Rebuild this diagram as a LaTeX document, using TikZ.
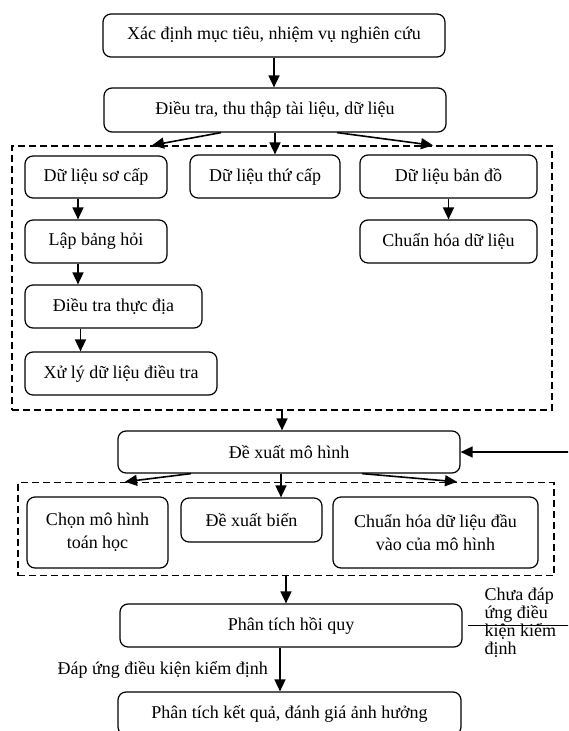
\documentclass[tikz,border=0pt]{standalone}
\usepackage{fontspec}
\setmainfont{Liberation Serif}
\usetikzlibrary{arrows.meta}

\begin{document}
\begin{tikzpicture}[x=1pt, y=-1pt, >={Triangle[length=12pt,width=11pt]}, line width=1.2pt,
    box/.style={draw, rounded corners=8pt, align=center, inner sep=2pt, font=\fontsize{18}{23}\selectfont},
    grp/.style={draw, dash pattern=on 7pt off 4pt, line width=1.4pt, inner sep=0pt},
    arr/.style={->, line width=1.6pt},
    lbl/.style={font=\fontsize{18}{18}\selectfont}]
    \useasboundingbox (0,0) rectangle (568,731);
    \clip (0,0) rectangle (568,731);

    % hai bước đầu
    \node[box, minimum width=342pt, minimum height=43pt] (muctieu) at (274,35.5) {Xác định mục tiêu, nhiệm vụ nghiên cứu};
    \node[box, minimum width=342pt, minimum height=44pt] (thuthap) at (275,110) {Điều tra, thu thập tài liệu, dữ liệu};
    \draw[arr] (muctieu.south) -- (muctieu.south |- thuthap.north);

    % nhóm dữ liệu
    \node[grp, minimum width=540pt, minimum height=264pt] (nhom1) at (282,278) {};
    \node[box, minimum width=142pt, minimum height=42pt] (socap) at (96,177) {Dữ liệu sơ cấp};
    \node[box, minimum width=150pt, minimum height=43pt] (thucap) at (265,176.5) {Dữ liệu thứ cấp};
    \node[box, minimum width=177pt, minimum height=43pt] (bando) at (448.5,176.5) {Dữ liệu bản đồ};
    \node[box, minimum width=177pt, minimum height=43pt] (chuanhoa) at (448.5,241.5) {Chuẩn hóa dữ liệu};
    \node[box, minimum width=142pt, minimum height=43pt] (lapbang) at (96,241.5) {Lập bảng hỏi};
    \node[box, minimum width=177pt, minimum height=43pt] (dieutra) at (113.5,306.5) {Điều tra thực địa};
    \node[box, minimum width=192pt, minimum height=43pt] (xuly) at (121,373.5) {Xử lý dữ liệu điều tra};

    \draw[arr] ([xshift=-54pt]thuthap.south) -- ([xshift=-130pt]nhom1.north);
    \draw[arr] (thuthap.south) -- (thuthap.south |- thucap.north);
    \draw[arr] ([xshift=62pt]thuthap.south) -- ([xshift=151pt]nhom1.north);
    \draw[arr] ([xshift=-18pt]socap.south) -- ([xshift=-18pt]socap.south |- lapbang.north);
    \draw[arr] ([xshift=-18pt]lapbang.south) -- ([xshift=-18pt]lapbang.south |- dieutra.north);
    \draw[arr] ([xshift=-33pt]dieutra.south) -- ([xshift=-33pt]dieutra.south |- xuly.north);
    \draw[arr] (bando.south) -- (chuanhoa.north);

    % đề xuất mô hình
    \node[box, minimum width=342pt, minimum height=42pt] (dexuat) at (289,452) {Đề xuất mô hình};
    \draw[arr] (nhom1.south) -- (nhom1.south |- dexuat.north);

    \node[grp, minimum width=536pt, minimum height=93pt] (nhom2) at (286,529) {};
    \node[box, minimum width=141pt, minimum height=71pt] (chon) at (97.5,532.5) {Chọn mô hình\\toán học};
    \node[box, minimum width=141pt, minimum height=44pt] (bien) at (251.5,520) {Đề xuất biến};
    \node[box, minimum width=205pt, minimum height=71pt] (chuanvao) at (435.5,532.5) {Chuẩn hóa dữ liệu đầu\\vào của mô hình};

    \draw[arr] ([xshift=-98pt]dexuat.south) -- ([xshift=-161pt]nhom2.north);
    \draw[arr] ([xshift=-8pt]dexuat.south) -- ([xshift=-8pt]dexuat.south |- bien.north);
    \draw[arr] ([xshift=73pt]dexuat.south) -- ([xshift=171pt]nhom2.north);

    % hồi quy và kết quả
    \node[box, minimum width=342pt, minimum height=43pt] (hoiquy) at (291,625.5) {Phân tích hồi quy};
    \node[box, minimum width=343pt, minimum height=43pt] (ketqua) at (289.5,713.5) {Phân tích kết quả, đánh giá ảnh hưởng};
    \draw[arr] (nhom2.south) -- (nhom2.south |- hoiquy.north);
    \draw[arr] ([xshift=-11pt]hoiquy.south) -- ([xshift=-11pt]hoiquy.south |- ketqua.north)
        node[midway, left=8pt, lbl] {Đáp ứng điều kiện kiểm định};

    % vòng lặp khi chưa đạt
    \draw[arr] ([xshift=5pt]hoiquy.east) -- ++(120,0) |- (dexuat.east);
    \node[lbl, anchor=north west, align=left, inner sep=0pt] (chuadat) at (484,587) {Chưa đáp\\ứng điều\\kiện kiểm\\định};
\end{tikzpicture}
\end{document}
